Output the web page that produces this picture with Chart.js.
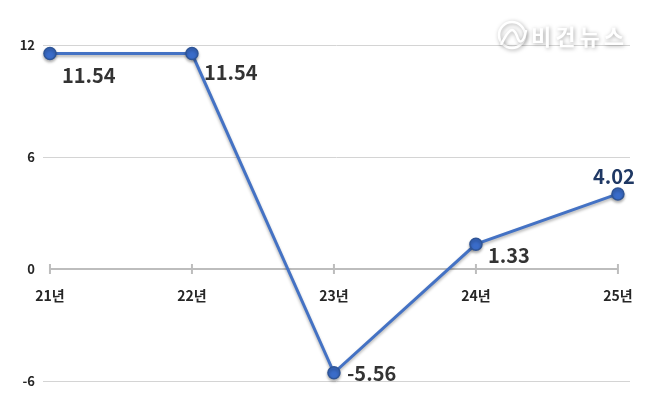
<!DOCTYPE html>
<html>
<head>
<meta charset="utf-8">
<script src="https://cdn.jsdelivr.net/npm/chart.js@4"></script>
<style>
  html, body { margin: 0; padding: 0; background: #fff; }
  #wrap { width: 656px; height: 414px; }
</style>
</head>
<body>
<div id="wrap"><canvas id="chart"></canvas></div>
<script>
const years = ['21년', '22년', '23년', '24년', '25년'];
const values = [11.54, 11.54, -5.56, 1.33, 4.02];
const yTicks = [-6, 0, 6, 12];

// label placement relative to each point: [dx, dy, align, colour]
const labelPos = [
    [12, 22, 'left', '#333333'],
    [12, 19, 'left', '#333333'],
    [13, 1, 'left', '#333333'],
    [12, 11, 'left', '#333333'],
    [-4, -18, 'center', '#1f3864']
];

const zeroAxis = {
    id: 'zeroAxis',
    beforeDatasetsDraw(chart) {
        const ctx = chart.ctx;
        const x = chart.scales.x, y = chart.scales.y;
        const y0 = y.getPixelForValue(0);
        ctx.save();
        ctx.strokeStyle = '#bdbdbd';
        ctx.lineWidth = 2;
        ctx.beginPath();
        ctx.moveTo(x.getPixelForValue(0), y0);
        ctx.lineTo(x.getPixelForValue(years.length - 1), y0);
        years.forEach((_, i) => {
            const px = x.getPixelForValue(i);
            ctx.moveTo(px, y0 - 5);
            ctx.lineTo(px, y0 + 5);
        });
        ctx.stroke();
        ctx.restore();
    }
};

const lineShadow = {
    id: 'lineShadow',
    beforeDatasetDraw(chart) {
        const ctx = chart.ctx;
        ctx.save();
        ctx.shadowColor = 'rgba(0,0,0,0.3)';
        ctx.shadowBlur = 3;
        ctx.shadowOffsetY = 2;
    },
    afterDatasetDraw(chart) {
        chart.ctx.restore();
    }
};

const valueLabels = {
    id: 'valueLabels',
    afterDatasetsDraw(chart) {
        const ctx = chart.ctx;
        const meta = chart.getDatasetMeta(0);
        ctx.save();
        ctx.font = 'bold 20px "Noto Sans CJK KR", "Noto Sans", sans-serif';
        ctx.textBaseline = 'middle';
        meta.data.forEach((pt, i) => {
            const [dx, dy, align, color] = labelPos[i];
            ctx.fillStyle = color;
            ctx.textAlign = align;
            ctx.fillText(values[i].toFixed(2), pt.x + dx, pt.y + dy);
        });
        ctx.restore();
    }
};

const watermark = {
    id: 'watermark',
    afterDraw(chart) {
        const ctx = chart.ctx;
        ctx.save();
        ctx.shadowColor = 'rgba(0,0,0,0.35)';
        ctx.shadowBlur = 4;
        ctx.shadowOffsetX = 1;
        ctx.shadowOffsetY = 1;
        ctx.strokeStyle = '#ffffff';
        ctx.lineWidth = 2.5;
        ctx.beginPath();
        ctx.arc(512, 35, 13, 0, Math.PI * 2);
        ctx.stroke();
        ctx.beginPath();
        ctx.moveTo(501, 45);
        ctx.bezierCurveTo(508, 30, 513, 25, 517, 36);
        ctx.bezierCurveTo(519, 45, 524, 43, 526, 30);
        ctx.stroke();
        ctx.fillStyle = '#ffffff';
        ctx.font = 'bold 22px "Noto Sans CJK KR", sans-serif';
        ctx.letterSpacing = '4px';
        ctx.textBaseline = 'middle';
        ctx.textAlign = 'left';
        ctx.fillText('비건뉴스', 531, 37);
        ctx.restore();
    }
};

new Chart(document.getElementById('chart'), {
    type: 'line',
    data: {
        datasets: [{
            data: values.map((v, i) => ({x: i, y: v})),
            borderColor: '#4472c4',
            borderWidth: 3,
            pointRadius: 6,
            pointBackgroundColor: '#3a6cc9',
            pointBorderColor: '#2f5597',
            pointBorderWidth: 1.5,
            tension: 0,
            clip: false
        }]
    },
    options: {
        responsive: true,
        maintainAspectRatio: false,
        animation: false,
        layout: {padding: {top: 45, right: 26, bottom: 33, left: 0}},
        plugins: {legend: {display: false}, tooltip: {enabled: false}},
        scales: {
            x: {
                type: 'linear',
                position: {y: 0},
                min: -0.049,
                max: 4.085,
                afterBuildTicks: (scale) => { scale.ticks = years.map((_, i) => ({value: i})); },
                grid: {display: false},
                border: {display: false},
                ticks: {
                    padding: 10,
                    color: '#262626',
                    font: {family: '"Noto Sans CJK KR", sans-serif', size: 14, weight: 'bold'},
                    callback: (v) => years[v]
                }
            },
            y: {
                min: -6,
                max: 12,
                afterBuildTicks: (scale) => { scale.ticks = yTicks.map(v => ({value: v})); },
                afterFit: (scale) => { scale.width = 43; },
                grid: {
                    drawTicks: false,
                    color: (c) => c.tick && c.tick.value === 0 ? 'rgba(0,0,0,0)' : '#d4d4d4',
                    lineWidth: 1
                },
                border: {display: false},
                ticks: {
                    padding: 8,
                    color: '#262626',
                    font: {family: '"Noto Sans CJK KR", sans-serif', size: 13, weight: 'bold'}
                }
            }
        }
    },
    plugins: [zeroAxis, lineShadow, valueLabels, watermark]
});
</script>
</body>
</html>
